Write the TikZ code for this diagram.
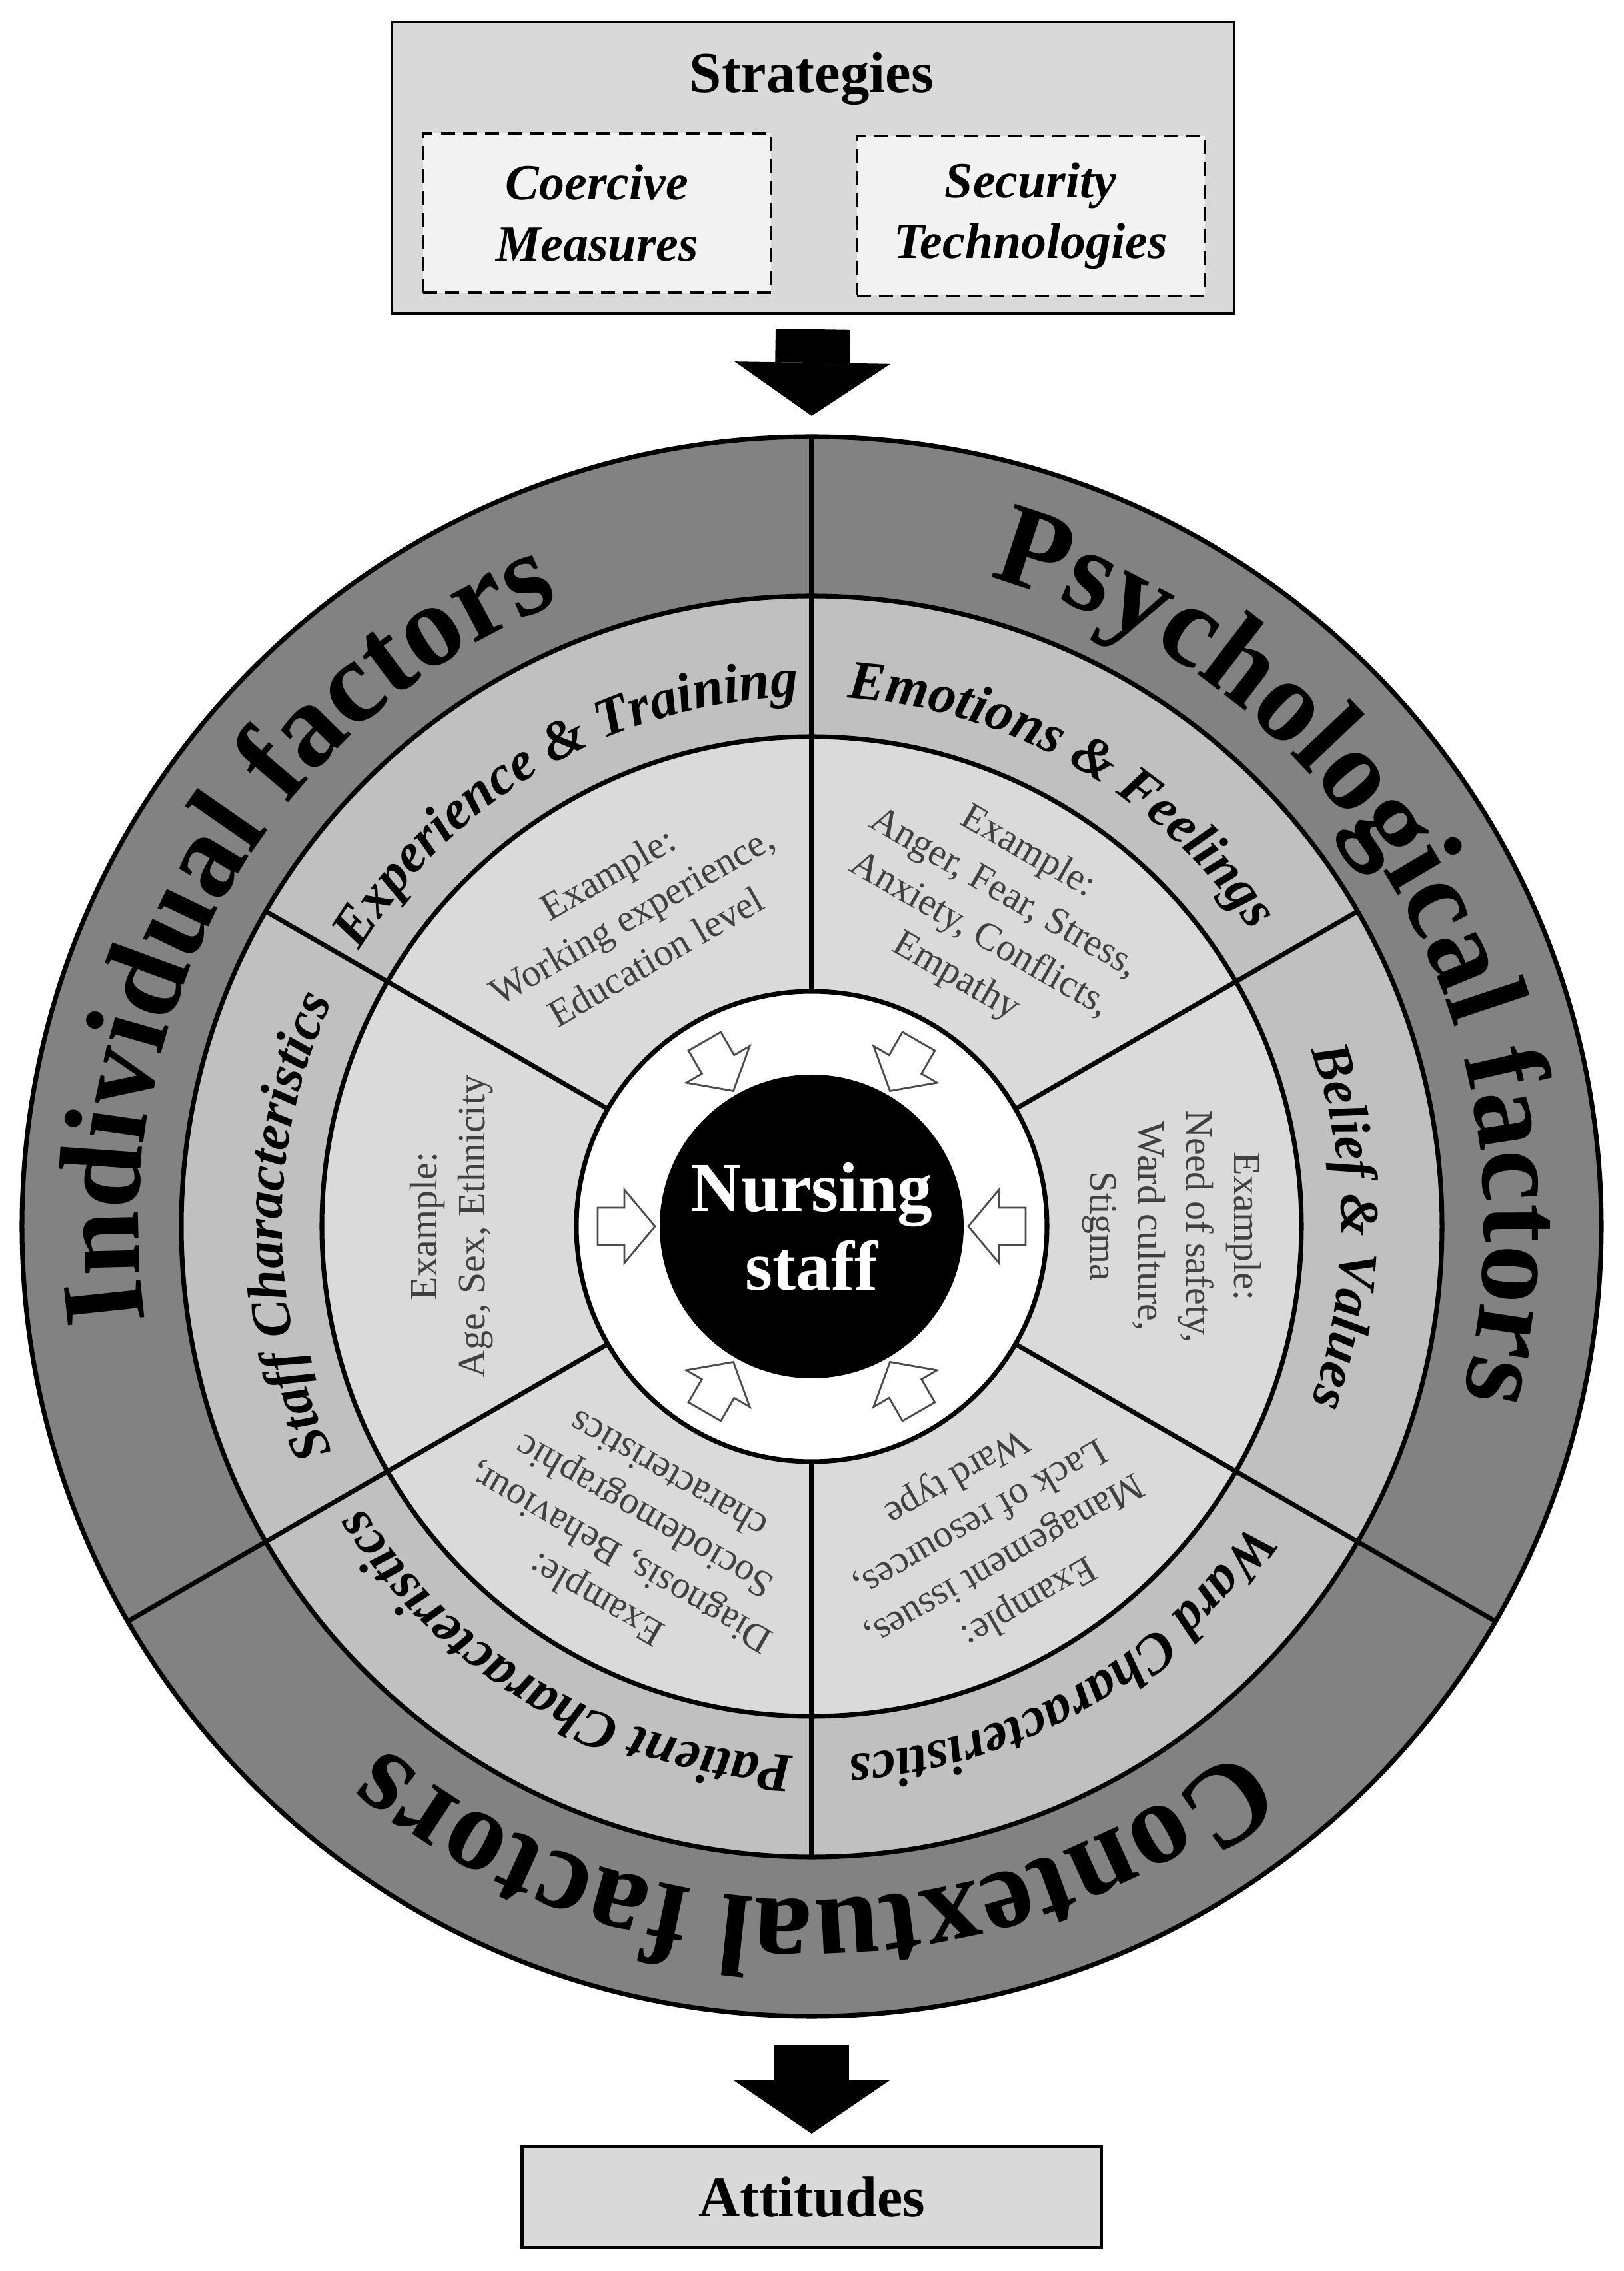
\documentclass[tikz,border=0pt]{standalone}
\usepackage{fontspec}
\setmainfont{Liberation Serif}
\usetikzlibrary{arrows.meta}
\usetikzlibrary{decorations.text}
\usetikzlibrary{positioning}

\definecolor{ringdark}{HTML}{828282}
\definecolor{ringmid}{HTML}{C0C0C0}
\definecolor{ringlight}{HTML}{DADADA}
\definecolor{boxgray}{HTML}{D9D9D9}
\definecolor{boxlight}{HTML}{F2F2F2}
\definecolor{extgray}{HTML}{404040}

\newcommand\bigfont{\bfseries\fontsize{50}{50}\selectfont}
\newcommand\ringfont{\bfseries\itshape\fontsize{23.5}{23.5}\selectfont}

\tikzset{
  outline/.style={line width=2pt},
  curved/.style={decorate, decoration={text along path, text align=center, text={#1}}},
  wheelrim/.style={circle, draw, outline, minimum size=23.7cm, inner sep=0pt, outer sep=0pt},
  hub/.style={circle, fill=black, minimum size=4.56cm, inner sep=0pt, text=white, align=center,
    font=\bfseries\fontsize{30}{33.6}\selectfont},
  extext/.style={align=center, text=extgray, font=\fontsize{16.5}{20.5}\selectfont},
  hollow/.style={draw=black!70, fill=white, line width=0.8pt, line join=miter},
  stratbox/.style={draw, fill=boxgray, line width=1.3pt, inner sep=0pt, outer sep=0pt},
  optbox/.style={draw, fill=boxlight, line width=1pt, dash pattern=on 6pt off 3.5pt,
    minimum width=5.22cm, minimum height=2.39cm, align=center,
    font=\bfseries\itshape\fontsize{21.6}{26}\selectfont},
  bigarrow/.style={line width=1.12cm, -{Triangle[length=0.8cm, width=2.34cm, line width=0pt]}}
}

\begin{document}
\begin{tikzpicture}[x=1cm,y=1cm]
\useasboundingbox (-12.18,-15.67) rectangle (12.18,18.40);

% rings
\fill[ringdark] (0,0) circle (11.85);
\fill[ringmid] (0,0) circle (9.46);
\fill[ringlight] (0,0) circle (7.35);
\fill[white] (0,0) circle (3.53);
\foreach \r in {9.46,7.35,3.53}
  \draw[outline] (0,0) circle (\r);
\foreach \a in {90,210,330}
  \draw[outline] (\a:3.53) -- (\a:11.85);
\foreach \a in {30,150,270}
  \draw[outline] (\a:3.53) -- (\a:9.46);
\node[wheelrim] (wheel) at (0,0) {};

% outer ring
\path[curved={|\bigfont|Individual factors}] (210:10.1) arc[start angle=210, end angle=90, radius=10.1];
\path[curved={|\bigfont|Psychological factors}] (90:10.1) arc[start angle=90, end angle=-30, radius=10.1];
\path[curved={|\bigfont|Contextual factors}] (-30:10.1) arc[start angle=-30, end angle=-150, radius=10.1];

% middle ring
\path[curved={|\ringfont|Experience {\&} Training}] (150:7.95) arc[start angle=150, end angle=90, radius=7.95];
\path[curved={|\ringfont|Emotions {\&} Feelings}] (90:7.95) arc[start angle=90, end angle=30, radius=7.95];
\path[curved={|\ringfont|Belief {\&} Values}] (30:7.95) arc[start angle=30, end angle=-30, radius=7.95];
\path[curved={|\ringfont|Ward Characteristics}] (-30:7.95) arc[start angle=-30, end angle=-90, radius=7.95];
\path[curved={|\ringfont|Patient Characteristics}] (-90:7.95) arc[start angle=-90, end angle=-150, radius=7.95];
\path[curved={|\ringfont|Staff Characteristics}] (210:7.95) arc[start angle=210, end angle=150, radius=7.95];

% examples
\foreach \a/\t in {
  120/{Example:\\Working experience,\\Education level},
  60/{Example:\\Anger, Fear, Stress,\\Anxiety, Conflicts,\\Empathy},
  0/{Example:\\Need of safety,\\Ward culture,\\Stigma},
  300/{Example:\\Management issues,\\Lack of resources,\\Ward type},
  240/{Example:\\Diagnosis, Behaviour,\\Sociodemographic\\characteristics},
  180/{Example:\\Age, Sex, Ethnicity}}
  \node[extext, rotate=\a-90] (ex\a) at (\a:5.4) {\t};

\foreach \a in {0,60,...,300}
  \draw[hollow, rotate=\a] (3.21,0.28) -- (2.81,0.28) -- (2.81,0.55) -- (2.35,0)
    -- (2.81,-0.55) -- (2.81,-0.28) -- (3.21,-0.28) -- cycle;

\node[hub] (nurse) at (0,0) {Nursing\\staff};

% strategies and outcome
\node[stratbox, minimum width=12.64cm, minimum height=4.37cm] (strat) at (0.02,15.885) {};
\node[font=\bfseries\fontsize{24.7}{24.7}\selectfont] (strtitle) at (0,17.22) {Strategies};
\node[optbox] (coerc) at (-3.22,15.205) {Coercive\\Measures};
\node[optbox] (secur) at (3.285,15.16) {Security\\Technologies};

\node[stratbox, minimum width=8.69cm, minimum height=1.52cm,
  font=\bfseries\fontsize{24.5}{24.5}\selectfont] (attit) at (0,-14.56) {Attitudes};

\draw[bigarrow] ([yshift=-0.24cm]strat.south) -- ([yshift=0.31cm]wheel.north);
\draw[bigarrow] ([yshift=-0.43cm]wheel.south) -- ([yshift=0.19cm]attit.north);
\end{tikzpicture}
\end{document}
